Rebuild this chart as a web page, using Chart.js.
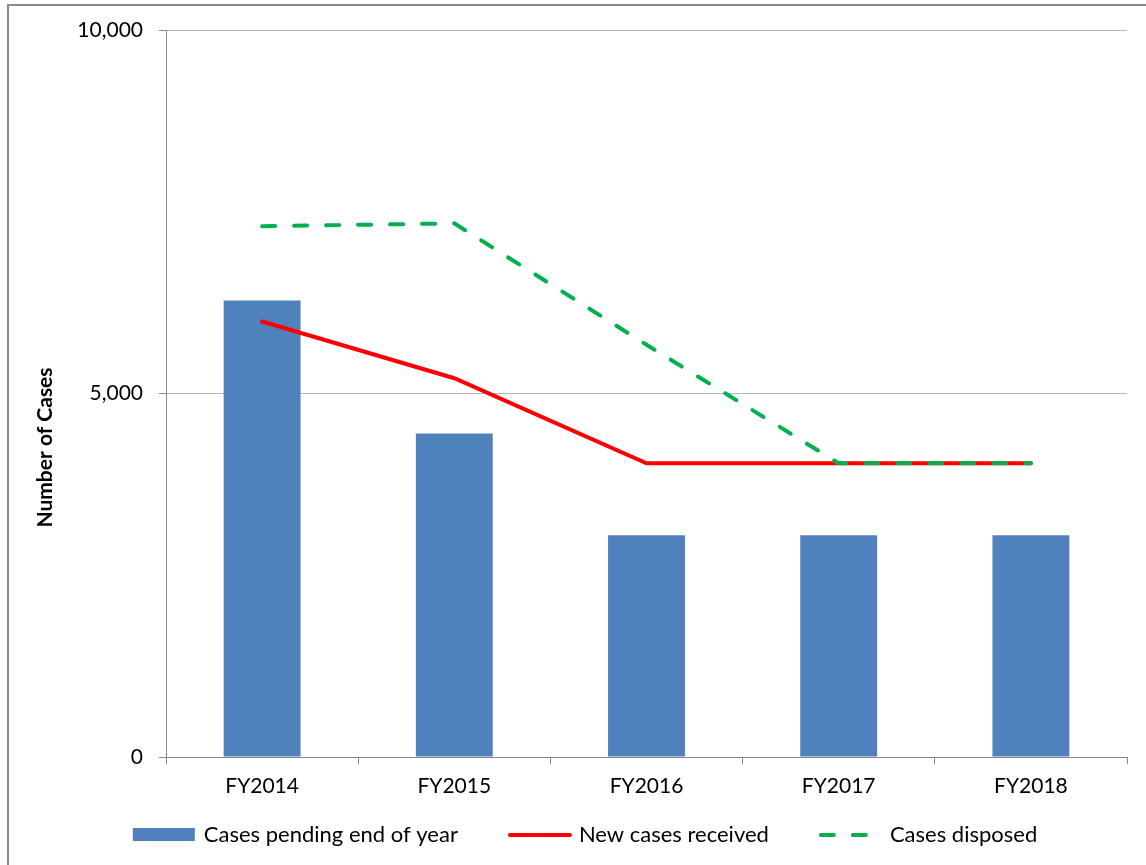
<!DOCTYPE html>
<html>
<head>
<meta charset="utf-8">
<script src="https://cdn.jsdelivr.net/npm/chart.js@4.4.1/dist/chart.umd.min.js"></script>
<style>
  html, body { margin: 0; padding: 0; background: #fff; overflow: hidden; }
  #frame {
    position: absolute; left: 7px; top: 4px;
    width: 1200px; height: 900px;
    border: 2px solid #8a8a8a; box-sizing: border-box;
  }
  #wrap { position: absolute; left: 0; top: 0; width: 1146px; height: 865px; }
</style>
</head>
<body>
<div id="frame"></div>
<div id="wrap"><canvas id="casesChart"></canvas></div>
<script>
// chart data
const years = ["FY2014", "FY2015", "FY2016", "FY2017", "FY2018"];
const pendingCases = [6280, 4450, 3050, 3050, 3050];
const newCases = [5990, 5210, 4040, 4040, 4040];
const disposedCases = [7300, 7340, 5670, 4040, 4040];
const yTicks = [0, 5000, 10000];
const yTitle = "Number of Cases";

const FONT = "Lato, 'Open Sans', sans-serif";

/* ── y title, drawn a bit below the axis middle like the original ── */
const yTitlePlugin = {
  id: "yTitle",
  afterDraw(chart) {
    const ctx = chart.ctx;
    const area = chart.chartArea;
    ctx.save();
    ctx.translate(45, (area.top + area.bottom) / 2 + 54);
    ctx.rotate(-Math.PI / 2);
    ctx.font = `bold 21px ${FONT}`;
    ctx.fillStyle = "#000";
    ctx.textAlign = "center";
    ctx.textBaseline = "middle";
    ctx.fillText(yTitle, 0, 0);
    ctx.restore();
  },
};

/* ── legend row under the axis ── */
const legendPlugin = {
  id: "bottomLegend",
  afterDraw(chart) {
    const ctx = chart.ctx;
    const sw = 64, gap = 7, between = 50;
    const y = 835;
    ctx.save();
    ctx.font = `22px ${FONT}`;
    ctx.textBaseline = "middle";
    const items = chart.data.datasets.map((ds) => ({
      ds,
      w: sw + gap + ctx.measureText(ds.label).width,
    }));
    const total = items.reduce((a, it) => a + it.w, 0) + between * (items.length - 1);
    let x = chart.width / 2 + 12 - total / 2;
    items.forEach(({ ds, w }) => {
      if (ds.type === "bar") {
        ctx.fillStyle = ds.backgroundColor;
        ctx.fillRect(x, y - 7, sw - 2, 13);
      } else {
        ctx.strokeStyle = ds.borderColor;
        ctx.lineWidth = ds.borderWidth;
        ctx.lineCap = "round";
        ctx.setLineDash(ds.borderDash || []);
        ctx.beginPath();
        ctx.moveTo(x + 2, y);
        ctx.lineTo(x + (ds.borderDash ? 52 : sw - 2), y);
        ctx.stroke();
        ctx.setLineDash([]);
      }
      ctx.fillStyle = "#000";
      ctx.fillText(ds.label, x + sw + gap, y);
      x += w + between;
    });
    ctx.restore();
  },
};

new Chart(document.getElementById("casesChart"), {
  data: {
    labels: years,
    datasets: [
      {
        type: "bar",
        label: "Cases pending end of year",
        data: pendingCases,
        backgroundColor: "#4f81bd",
        borderWidth: 0,
        barPercentage: 0.4,
        categoryPercentage: 1,
        order: 3,
      },
      {
        type: "line",
        label: "New cases received",
        data: newCases,
        borderColor: "#ff0000",
        backgroundColor: "#ff0000",
        borderWidth: 4,
        pointRadius: 0,
        tension: 0,
        borderCapStyle: "round",
        order: 2,
      },
      {
        type: "line",
        label: "Cases disposed",
        data: disposedCases,
        borderColor: "#00b050",
        backgroundColor: "#00b050",
        borderWidth: 4,
        borderDash: [13, 19],
        borderCapStyle: "round",
        pointRadius: 0,
        tension: 0,
        order: 1,
      },
    ],
  },
  plugins: [yTitlePlugin, legendPlugin],
  options: {
    responsive: true,
    maintainAspectRatio: false,
    animation: false,
    layout: { padding: { left: 0, right: 19, top: 30, bottom: 48 } },
    plugins: {
      tooltip: { enabled: false },
      legend: { display: false },
    },
    scales: {
      x: {
        offset: true,
        grid: {
          offset: true,
          drawOnChartArea: false,
          drawTicks: true,
          tickLength: 7,
          color: "#888",
        },
        border: { color: "#888", width: 1 },
        ticks: { color: "#000", font: { family: FONT, size: 21 }, padding: 10 },
        afterFit: (scale) => { scale.height = 60; },
      },
      y: {
        min: 0,
        max: 10000,
        afterBuildTicks: (scale) => {
          scale.ticks = yTicks.map((v) => ({ value: v }));
        },
        grid: {
          color: "#b8b8b8",
          tickLength: 7,
          tickColor: "#888",
        },
        border: { color: "#888", width: 1 },
        ticks: {
          color: "#000",
          font: { family: FONT, size: 21 },
          padding: 16,
          callback: (v) => v.toLocaleString("en-US"),
        },
        afterFit: (scale) => { scale.width = 166; },
      },
    },
  },
});
</script>
</body>
</html>
